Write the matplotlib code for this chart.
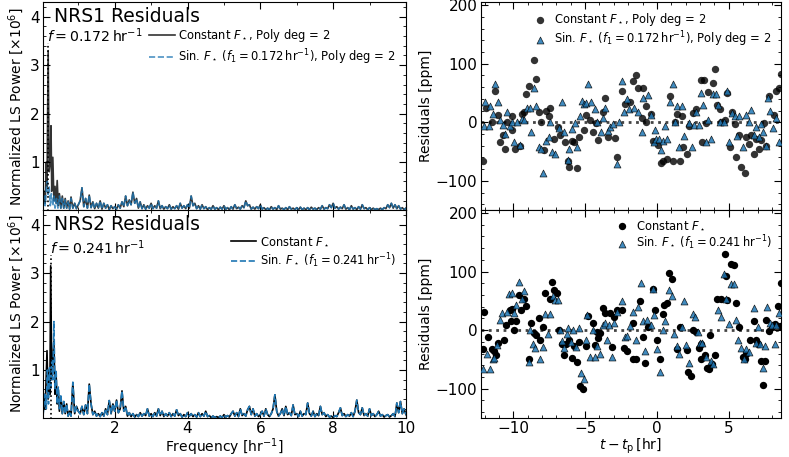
import numpy as np
import matplotlib.pyplot as plt
from matplotlib.ticker import MultipleLocator

plt.rcParams['font.size'] = 10
plt.rcParams['mathtext.fontset'] = 'dejavusans'
plt.rcParams['xtick.direction'] = 'in'
plt.rcParams['ytick.direction'] = 'in'
plt.rcParams['xtick.top'] = True
plt.rcParams['ytick.right'] = True
plt.rcParams['xtick.major.size'] = 5
plt.rcParams['ytick.major.size'] = 5
plt.rcParams['xtick.minor.size'] = 2.5
plt.rcParams['ytick.minor.size'] = 2.5
plt.rcParams['xtick.labelsize'] = 11
plt.rcParams['ytick.labelsize'] = 11
plt.rcParams['xtick.major.pad'] = 2.5
plt.rcParams['ytick.major.pad'] = 2.5

# ---- periodograms (power in units of 1e6) ----
nrs1_freq = 0.172
nrs2_freq = 0.241
nrs1_peak = 3.45
nrs2_peak = 3.37

# low-frequency part, read point by point
nrs1_const_low_f = [0.03, 0.06, 0.09, 0.12, 0.14, 0.172, 0.20, 0.23, 0.25, 0.27, 0.30, 0.33, 0.36, 0.39,
                    0.42, 0.45, 0.48, 0.52, 0.56, 0.60, 0.64, 0.68, 0.72, 0.76, 0.80, 0.85, 0.90, 0.95, 1.00]
nrs1_const_low_p = [0.05, 0.4, 0.15, 1.0, 0.5, 3.3, 0.8, 1.0, 1.75, 0.4, 1.1, 0.2, 0.5, 0.15,
                    0.62, 0.1, 0.35, 0.05, 0.3, 0.05, 0.25, 0.05, 0.2, 0.03, 0.28, 0.05, 0.15, 0.04, 0.12]
nrs1_sin_low_f = [0.03, 0.06, 0.09, 0.12, 0.15, 0.17, 0.20, 0.23, 0.26, 0.30, 0.33, 0.36, 0.40, 0.44,
                  0.48, 0.52, 0.56, 0.60, 0.64, 0.68, 0.72, 0.76, 0.80, 0.85, 0.90, 0.95, 1.00]
nrs1_sin_low_p = [0.05, 0.3, 0.1, 0.45, 0.6, 0.3, 0.5, 0.1, 0.35, 0.1, 0.3, 0.05, 0.25, 0.05,
                  0.3, 0.05, 0.25, 0.05, 0.22, 0.05, 0.18, 0.03, 0.25, 0.05, 0.15, 0.04, 0.12]

nrs2_const_low_f = [0.03, 0.06, 0.09, 0.12, 0.14, 0.17, 0.20, 0.22, 0.241, 0.27, 0.30, 0.33, 0.36, 0.39,
                    0.42, 0.45, 0.48, 0.52, 0.56, 0.60, 0.64, 0.68, 0.72, 0.76, 0.80, 0.85, 0.90, 0.95, 1.00]
nrs2_const_low_p = [0.05, 0.5, 0.2, 0.9, 1.4, 0.4, 1.0, 0.5, 3.15, 0.8, 1.2, 1.6, 0.5, 0.9,
                    0.3, 0.6, 0.15, 0.45, 0.1, 0.35, 0.1, 0.3, 0.05, 0.15, 0.05, 0.73, 0.1, 0.25, 0.15]
nrs2_sin_low_f = [0.03, 0.06, 0.09, 0.12, 0.15, 0.18, 0.21, 0.24, 0.27, 0.30, 0.33, 0.36, 0.39, 0.42,
                  0.45, 0.48, 0.52, 0.56, 0.60, 0.64, 0.68, 0.72, 0.76, 0.80, 0.85, 0.90, 0.95, 1.00]
nrs2_sin_low_p = [0.05, 0.3, 0.5, 0.2, 1.0, 0.3, 1.05, 0.6, 1.2, 0.8, 2.0, 0.6, 1.0, 0.3,
                  0.65, 0.2, 0.5, 0.1, 0.35, 0.1, 0.3, 0.05, 0.15, 0.05, 0.75, 0.1, 0.25, 0.15]

# 1.05 ... 10.00 hr^-1 in steps of 0.05 (both models overlap here)
tail_freq = 1.0 + 0.05 * np.arange(1, 181)
nrs1_tail_p = [
    0.2, 0.47, 0.08, 0.25, 0.05, 0.32, 0.06, 0.18, 0.04, 0.15, 0.05, 0.2, 0.03, 0.15, 0.05, 0.12, 0.02, 0.1, 0.04, 0.08,
    0.03, 0.12, 0.05, 0.18, 0.08, 0.3, 0.1, 0.22, 0.12, 0.38, 0.15, 0.25, 0.05, 0.18, 0.04, 0.12, 0.03, 0.1, 0.05, 0.15,
    0.04, 0.1, 0.05, 0.2, 0.04, 0.1, 0.03, 0.08, 0.04, 0.12, 0.03, 0.08, 0.04, 0.1, 0.03, 0.15, 0.05, 0.1, 0.04, 0.12,
    0.05, 0.3, 0.1, 0.15, 0.04, 0.1, 0.03, 0.12, 0.04, 0.08, 0.02, 0.06, 0.03, 0.1, 0.03, 0.06, 0.02, 0.07, 0.03, 0.1,
    0.03, 0.06, 0.02, 0.08, 0.03, 0.12, 0.04, 0.07, 0.03, 0.1, 0.06, 0.2, 0.1, 0.12, 0.03, 0.07, 0.03, 0.08, 0.04, 0.12,
    0.03, 0.06, 0.02, 0.05, 0.02, 0.08, 0.03, 0.06, 0.02, 0.1, 0.03, 0.05, 0.02, 0.06, 0.02, 0.08, 0.03, 0.05, 0.02, 0.06,
    0.02, 0.07, 0.02, 0.05, 0.02, 0.06, 0.02, 0.07, 0.03, 0.05, 0.02, 0.06, 0.03, 0.1, 0.03, 0.06, 0.04, 0.12, 0.06, 0.15,
    0.05, 0.08, 0.03, 0.07, 0.04, 0.12, 0.03, 0.06, 0.02, 0.1, 0.03, 0.06, 0.02, 0.08, 0.03, 0.12, 0.04, 0.06, 0.02, 0.06,
    0.02, 0.05, 0.02, 0.04, 0.02, 0.05, 0.02, 0.06, 0.04, 0.12, 0.06, 0.15, 0.05, 0.12, 0.04, 0.1, 0.03, 0.06, 0.02, 0.05,
]
nrs2_tail_p = [
    0.1, 0.25, 0.08, 0.28, 0.1, 0.71, 0.3, 0.08, 0.15, 0.05, 0.1, 0.04, 0.12, 0.05, 0.2, 0.08, 0.37, 0.1, 0.3, 0.15,
    0.38, 0.12, 0.2, 0.57, 0.15, 0.25, 0.05, 0.12, 0.04, 0.1, 0.03, 0.08, 0.04, 0.12, 0.05, 0.1, 0.06, 0.2, 0.05, 0.1,
    0.04, 0.12, 0.05, 0.2, 0.06, 0.15, 0.04, 0.1, 0.05, 0.12, 0.04, 0.1, 0.05, 0.18, 0.06, 0.1, 0.03, 0.08, 0.04, 0.12,
    0.05, 0.1, 0.04, 0.08, 0.03, 0.12, 0.04, 0.1, 0.05, 0.15, 0.04, 0.06, 0.02, 0.05, 0.02, 0.04, 0.02, 0.05, 0.02, 0.08,
    0.03, 0.06, 0.03, 0.1, 0.15, 0.05, 0.12, 0.04, 0.2, 0.06, 0.1, 0.05, 0.18, 0.25, 0.08, 0.2, 0.05, 0.1, 0.04, 0.08,
    0.15, 0.05, 0.2, 0.08, 0.04, 0.1, 0.2, 0.49, 0.15, 0.05, 0.1, 0.2, 0.06, 0.25, 0.08, 0.12, 0.06, 0.28, 0.08, 0.1,
    0.04, 0.15, 0.05, 0.1, 0.08, 0.32, 0.1, 0.05, 0.15, 0.04, 0.1, 0.06, 0.25, 0.08, 0.12, 0.04, 0.08, 0.03, 0.05, 0.02,
    0.06, 0.04, 0.12, 0.22, 0.06, 0.1, 0.04, 0.08, 0.05, 0.12, 0.04, 0.15, 0.38, 0.12, 0.08, 0.22, 0.06, 0.1, 0.05, 0.2,
    0.06, 0.1, 0.04, 0.08, 0.15, 0.05, 0.08, 0.03, 0.06, 0.08, 0.03, 0.06, 0.1, 0.04, 0.32, 0.12, 0.35, 0.1, 0.2, 0.08,
]

# ---- binned residuals (t - tp [hr], ppm) ----
nrs1_const_res = [
    (-12.1, -67), (-11.87, 25), (-11.48, 0), (-11.25, 54), (-11.09, 13), (-10.9, -33), (-10.72, -22), (-10.6, -46),
    (-10.44, 0), (-10.09, 10), (-10.09, -14), (-9.91, -45), (-9.56, -40), (-9.4, 14), (-9.28, 18), (-9.1, 48),
    (-8.93, 62), (-8.59, 106), (-8.4, 74), (-8.24, 18), (-8.08, 1), (-7.89, -48), (-7.75, 19), (-7.54, 11),
    (-7.43, 25), (-7.2, -29), (-6.92, -9), (-6.73, -21), (-6.39, -33), (-6.22, -66), (-6.09, -76), (-5.93, -32),
    (-5.76, -33), (-5.58, -79), (-5.42, -26), (-5.11, -13), (-4.93, 13), (-4.65, 4), (-4.42, -17), (-4.23, -2),
    (-4.07, -30), (-3.77, 17), (-3.61, 41), (-3.42, -26), (-2.92, -27), (-2.75, -60), (-2.45, 54), (-2.22, 31),
    (-1.9, 35), (-1.65, 70), (-1.46, 80), (-1.3, 58), (-1.07, 7), (-0.95, 59), (-0.76, 27), (-0.76, 1),
    (-0.44, 14), (-0.26, -32), (0.09, -39), (0.25, -70), (0.39, -66), (0.72, -62), (0.9, 44), (1.09, -67),
    (1.25, 0), (1.41, 14), (1.6, -66), (1.71, 10), (1.83, -43), (2.06, -55), (2.25, -6), (2.52, 15),
    (2.71, 23), (3.06, 72), (3.17, -33), (3.26, 72), (3.4, -2), (3.57, 51), (3.91, 67), (4.07, 91),
    (4.19, 30), (4.37, 23), (4.49, 1), (4.72, 4), (4.88, 50), (5.07, -43), (5.19, 17), (5.42, -3),
    (5.53, -59), (5.72, -22), (5.88, -76), (6.11, -87), (6.23, -26), (6.41, -38), (6.57, -21), (6.74, -55),
    (6.88, -29), (7.11, -45), (7.27, -30), (7.43, -2), (7.57, -40), (7.8, 44), (8.13, 13), (8.26, 53),
    (8.5, 58), (8.62, 82),
]
nrs1_sin_res = [
    (-12.06, -7), (-11.94, 34), (-11.71, -7), (-11.6, 28), (-11.41, 14), (-11.25, 65), (-11.09, 35), (-10.9, 4),
    (-10.72, -5), (-10.55, -20), (-10.44, 18), (-10.25, -7), (-10.09, 1), (-9.93, -33), (-9.74, 0), (-9.56, -39),
    (-9.4, 6), (-9.28, 4), (-9.05, 24), (-8.86, 24), (-8.75, -17), (-8.59, 58), (-8.4, 27), (-8.24, -42),
    (-8.08, -45), (-7.94, -87), (-7.71, -32), (-7.54, -26), (-7.43, 1), (-7.31, -50), (-7.08, -54), (-6.85, -10),
    (-6.62, 34), (-6.5, -16), (-6.22, -65), (-6.09, -46), (-5.93, -11), (-5.69, -2), (-5.58, -42), (-5.39, 10),
    (-5.23, 37), (-5.07, 31), (-4.93, 33), (-4.77, 65), (-4.61, 34), (-4.31, 23), (-4.14, 0), (-3.91, -17),
    (-3.77, 8), (-3.61, 25), (-3.38, -15), (-3.26, -9), (-3.08, -3), (-2.8, -72), (-2.61, 0), (-2.45, 70),
    (-2.29, 18), (-2.11, 40), (-1.92, 23), (-1.6, 24), (-1.3, 18), (-1.07, -17), (-0.95, 42), (-0.6, 46),
    (-0.44, 13), (-0.21, -34), (-0.14, -13), (-0.07, -29), (0.16, -29), (0.25, -47), (0.44, -32), (0.56, -6),
    (0.72, -29), (0.9, 35), (1.09, 65), (1.25, 0), (1.37, 27), (1.55, -42), (1.71, 28), (1.875, -23),
    (2.25, -2), (2.41, -42), (2.57, -5), (2.75, 17), (2.94, -5), (3.06, 50), (3.22, 30), (3.4, -33),
    (3.57, 4), (3.73, -29), (3.87, 48), (4.1, 48), (4.26, 30), (4.42, 0), (4.65, 0), (4.88, 53),
    (5.02, -33), (5.19, 15), (5.42, 10), (5.58, -23), (5.72, 10), (6.0, -42), (6.23, 13), (6.41, 0),
    (6.57, 21), (6.74, -21), (6.92, -9), (7.11, -26), (7.27, -3), (7.38, -17), (7.57, -40), (7.73, 41),
    (7.9, 19), (8.08, -10), (8.31, 8), (8.5, -34),
]
nrs2_const_res = [
    (-12.1, -33), (-12.06, 31), (-11.78, -11), (-11.48, -33), (-11.32, -35), (-11.18, -43), (-11.09, -22),
    (-10.62, -16), (-10.48, 9), (-10.25, 34), (-10.16, 16), (-10.09, 36), (-9.98, 1), (-9.79, 16), (-9.63, 60),
    (-9.47, 35), (-9.28, 54), (-9.1, 41), (-8.93, -50), (-8.77, 13), (-8.59, -5), (-8.4, -8), (-8.24, 20),
    (-8.12, -16), (-7.94, 6), (-7.78, 63), (-7.48, 54), (-7.31, 83), (-7.15, 69), (-6.97, 64), (-6.85, 1),
    (-6.62, -24), (-6.46, -43), (-6.32, -24), (-6.09, -17), (-5.93, -47), (-5.76, -27), (-5.58, -54), (-5.42, -20),
    (-5.35, -96), (-5.16, -100), (-4.93, -27), (-4.77, 24), (-4.47, 13), (-4.31, -26), (-4.14, -3), (-4.07, -13),
    (-3.96, -5), (-3.77, 37), (-3.61, 29), (-3.26, 29), (-3.15, -29), (-2.98, 23), (-2.8, 35), (-2.45, 35),
    (-2.29, -31), (-2.06, -35), (-1.7, -49), (-1.65, 12), (-1.46, -49), (-1.18, 50), (-0.95, -11), (-0.81, -56),
    (-0.6, 5), (-0.3, 71), (-0.14, 35), (0.02, -16), (0.21, -49), (0.39, 27), (0.49, 43), (0.67, 47),
    (0.86, 98), (1.02, 87), (1.41, -33), (1.6, 5), (2.06, -34), (2.18, -71), (2.34, -79), (2.52, 1),
    (2.75, -3), (2.94, -31), (3.1, -24), (3.1, -50), (3.33, -43), (3.5, -64), (3.63, -66), (3.68, -8),
    (3.8, -57), (4.03, -43), (4.19, 53), (4.49, 53), (4.72, 130), (4.84, 92), (4.88, 51), (5.18, 113),
    (5.35, 112), (5.53, 46), (5.72, 5), (6.0, -45), (6.11, -49), (6.23, -41), (6.46, -17), (6.74, 16),
    (6.88, -16), (7.04, -24), (7.27, -52), (7.38, -93), (7.5, -52), (7.62, 17), (7.8, -1), (8.03, 5),
    (8.2, 11), (8.43, 41), (8.54, 7), (8.62, 80),
]
nrs2_sin_res = [
    (-12.1, -66), (-11.83, -40), (-11.64, -67), (-11.41, -50), (-11.32, -47), (-11.13, -26), (-10.95, 17),
    (-10.79, 29), (-10.44, 31), (-10.32, 62), (-10.09, 63), (-9.98, 30), (-9.79, 43), (-9.63, 83), (-9.4, 53),
    (-9.28, 66), (-8.93, -54), (-8.82, 1), (-8.63, -23), (-8.47, -31), (-8.12, -50), (-7.94, -28), (-7.78, 27),
    (-7.61, -6), (-7.48, 27), (-7.24, 58), (-7.08, 51), (-6.92, 52), (-6.78, 1), (-6.62, -18), (-6.46, -31),
    (-6.27, -7), (-6.16, 4), (-6.0, -20), (-5.81, 0), (-5.62, -28), (-5.46, 4), (-5.3, -73), (-5.11, -83),
    (-4.93, -16), (-4.84, 26), (-4.65, -46), (-4.47, 0), (-4.31, -45), (-4.14, -27), (-3.96, -40), (-3.77, 9),
    (-3.61, 12), (-3.5, -16), (-3.31, 9), (-3.15, -46), (-2.96, 12), (-2.8, 31), (-2.45, 50), (-2.22, -11),
    (-2.06, -10), (-1.9, 7), (-1.64, 31), (-1.46, -16), (-1.3, 40), (-1.13, 80), (-0.95, 16), (-0.83, -35),
    (-0.67, 17), (-0.44, 9), (-0.3, 70), (-0.21, 26), (0.02, -33), (0.21, -71), (0.39, 0), (0.56, 16),
    (0.86, 69), (1.02, 58), (1.18, -7), (1.37, -27), (1.55, -40), (1.71, 5), (1.875, 49), (2.01, -26),
    (2.25, -56), (2.48, 27), (2.64, 22), (2.87, -3), (3.03, -22), (3.17, -22), (3.4, -45), (3.73, -53),
    (3.91, -57), (4.26, 35), (4.49, 22), (4.65, 96), (4.84, 53), (5.02, 10), (5.18, 79), (5.35, 79),
    (5.53, 18), (5.65, -16), (5.88, -31), (6.04, -50), (6.23, -33), (6.41, -37), (6.74, 37), (6.88, -22),
    (7.04, 5), (7.2, -24), (7.38, -64), (7.5, -27), (7.66, 39), (7.85, 13), (8.03, 9), (8.2, -23),
    (8.31, 9), (8.5, 30),
]

blue = '#1f77b4'

fig = plt.figure(figsize=(7.89, 4.57), dpi=100)
ax_p1 = fig.add_axes([0.0545, 0.5403, 0.460, 0.455])
ax_p2 = fig.add_axes([0.0545, 0.0853, 0.460, 0.455], sharex=ax_p1)
ax_r1 = fig.add_axes([0.6096, 0.5403, 0.380, 0.455])
ax_r2 = fig.add_axes([0.6096, 0.0853, 0.380, 0.455], sharex=ax_r1)


def draw_periodogram(ax, name, f0, peak, cf, cp, sf, sp, tail, poly, alpha):
    c_f = np.concatenate([cf, tail_freq])
    c_p = np.concatenate([cp, tail])
    s_f = np.concatenate([sf, tail_freq])
    s_p = np.concatenate([sp, tail])
    ax.plot(c_f, c_p, color='k', lw=1.2, alpha=alpha, label=r'Constant $F_\star$' + poly)
    ax.plot(s_f, s_p, color=blue, lw=1.2, ls='--', alpha=alpha,
            label=r'Sin. $F_\star$ ($f_1 = %.3f\,\mathrm{hr}^{-1}$)' % f0 + poly)
    ax.vlines(f0, 0, peak, colors='k', linestyles=':', lw=1.2)
    ax.text(0.03, 0.975, name, transform=ax.transAxes, fontsize=13.5, va='top', ha='left')
    ax.text(f0 - 0.03, peak + 0.02, r'$f = %.3f\,\mathrm{hr}^{-1}$' % f0, fontsize=10.2,
            va='baseline', ha='left')
    ax.legend(loc='upper right', bbox_to_anchor=(1.0, 0.93), frameon=False, fontsize=8.3,
              handlelength=2.2, labelspacing=0.25, handletextpad=0.3)
    ax.set_xlim(0.03, 10)
    ax.set_ylim(0.01, 4.3)
    ax.xaxis.set_major_locator(MultipleLocator(2))
    ax.xaxis.set_minor_locator(MultipleLocator(1))
    ax.yaxis.set_major_locator(MultipleLocator(1))
    ax.yaxis.set_minor_locator(MultipleLocator(0.2))
    ax.set_ylabel(r'Normalized LS Power [$\times 10^6$]', labelpad=3)


def draw_residuals(ax, cres, sres, f0, poly, alpha):
    ct, cr = np.array(cres).T
    st, sr = np.array(sres).T
    ax.axhline(0, color='#444444', ls=':', lw=2, zorder=1)
    ax.scatter(ct, cr, s=28, color='k', alpha=alpha, lw=0, zorder=2, label=r'Constant $F_\star$' + poly)
    ax.scatter(st, sr, s=25, marker='^', color=blue, edgecolor='k', lw=0.5, alpha=0.85, zorder=3,
               label=r'Sin. $F_\star$ ($f_1 = %.3f\,\mathrm{hr}^{-1}$)' % f0 + poly)
    ax.legend(loc='upper right', frameon=False, fontsize=8.3, labelspacing=0.05,
              handletextpad=0.2, borderaxespad=0.4)
    ax.set_xlim(-12.25, 8.62)
    ax.set_ylim(-150, 205)
    ax.xaxis.set_major_locator(MultipleLocator(5))
    ax.xaxis.set_minor_locator(MultipleLocator(1))
    ax.yaxis.set_major_locator(MultipleLocator(100))
    ax.yaxis.set_minor_locator(MultipleLocator(20))
    ax.set_ylabel('Residuals [ppm]', labelpad=2)


draw_periodogram(ax_p1, 'NRS1 Residuals', nrs1_freq, nrs1_peak, nrs1_const_low_f, nrs1_const_low_p,
                 nrs1_sin_low_f, nrs1_sin_low_p, nrs1_tail_p, ', Poly deg = 2', 0.8)
draw_periodogram(ax_p2, 'NRS2 Residuals', nrs2_freq, nrs2_peak, nrs2_const_low_f, nrs2_const_low_p,
                 nrs2_sin_low_f, nrs2_sin_low_p, nrs2_tail_p, '', 1.0)
draw_residuals(ax_r1, nrs1_const_res, nrs1_sin_res, nrs1_freq, ', Poly deg = 2', 0.8)
draw_residuals(ax_r2, nrs2_const_res, nrs2_sin_res, nrs2_freq, '', 1.0)

for ax in (ax_p1, ax_r1):
    ax.tick_params(labelbottom=False)

ax_p2.set_xlabel(r'Frequency [hr$^{-1}$]', labelpad=0)
ax_r2.set_xlabel(r'$t - t_{\rm p}\,[\mathrm{hr}]$', labelpad=0)

fig.savefig('out.png', dpi=100)
